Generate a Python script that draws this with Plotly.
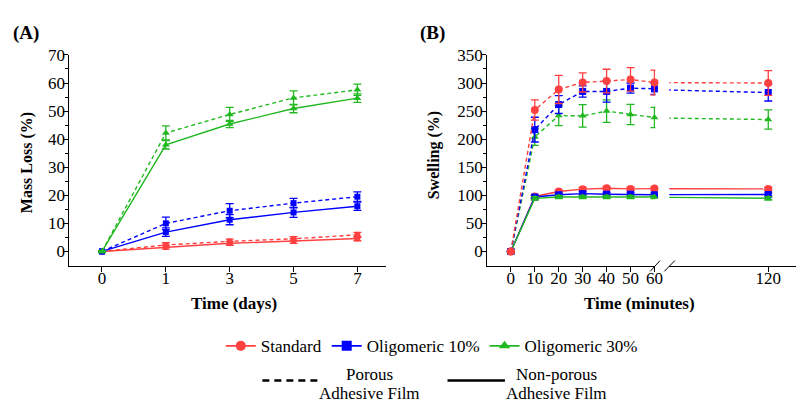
import plotly.graph_objects as go

W, H = 804, 403

# ---------------- Data ----------------
days = [0, 1, 3, 5, 7]
day_labels = ["0", "1", "3", "5", "7"]

ml_std_np = [0, 1.5, 2.9, 3.7, 4.6]
ml_std_np_err = [0.3, 0.7, 0.7, 0.8, 0.8]
ml_std_p = [0, 2.3, 3.6, 4.5, 5.9]
ml_std_p_err = [0.3, 0.8, 0.8, 0.8, 0.9]
ml_o10_np = [0, 6.9, 11.3, 13.9, 16.1]
ml_o10_np_err = [0.3, 1.5, 1.8, 1.8, 1.5]
ml_o10_p = [0, 10.0, 14.5, 17.2, 19.5]
ml_o10_p_err = [0.3, 2.2, 2.5, 1.7, 1.7]
ml_o30_np = [0, 38.0, 45.4, 50.9, 54.6]
ml_o30_np_err = [0.3, 1.5, 1.3, 1.5, 1.5]
ml_o30_p = [0, 42.2, 48.8, 54.7, 57.6]
ml_o30_p_err = [0.3, 2.5, 2.5, 2.5, 2.0]

minutes = [0, 10, 20, 30, 40, 50, 60, 120]

sw_std_np = [0, 98, 106.7, 111, 112.6, 111.4, 112, 111.4]
sw_std_np_err = [1, 3, 3, 3, 3, 3, 3, 3]
sw_std_p = [0, 252, 288.5, 301, 303.5, 306.4, 301, 300]
sw_std_p_err = [1, 18, 25, 17, 21, 21, 22, 22]
sw_o10_np = [0, 97, 101, 103, 102, 102, 101, 101.5]
sw_o10_np_err = [1, 3, 3, 3, 3, 3, 3, 3]
sw_o10_p = [0, 217, 261.7, 285, 285, 291, 289.6, 283]
sw_o10_p_err = [1, 22, 16, 10, 19, 9, 10, 15]
sw_o30_np = [0, 94.6, 97, 97, 97, 97, 97, 94.6]
sw_o30_np_err = [1, 3, 3, 3, 3, 3, 3, 3]
sw_o30_p = [0, 204, 242, 241.5, 250, 244, 238.5, 235]
sw_o30_p_err = [1, 15, 18, 20, 20, 18, 18, 17]

legend_names = ["Standard", "Oligomeric 10%", "Oligomeric 30%"]

# ---------------- Style ----------------
RED = "#ff4040"
BLUE = "#0000ff"
GREEN = "#22b822"
FONT = "Liberation Serif, Times New Roman, DejaVu Serif, serif"
DASH = "4px,3px"


def px_x(p):
    return p / W


def px_y(p):
    return 1 - p / H


fig = go.Figure()

# Panel A
series_a = [
    (ml_std_np, ml_std_np_err, RED, "circle", "solid"),
    (ml_std_p, ml_std_p_err, RED, "circle", DASH),
    (ml_o10_np, ml_o10_np_err, BLUE, "square", "solid"),
    (ml_o10_p, ml_o10_p_err, BLUE, "square", DASH),
    (ml_o30_np, ml_o30_np_err, GREEN, "triangle-up", "solid"),
    (ml_o30_p, ml_o30_p_err, GREEN, "triangle-up", DASH),
]
for vals, errs, col, sym, dash in series_a:
    fig.add_trace(go.Scatter(
        x=day_labels, y=vals, xaxis="x", yaxis="y", mode="lines+markers",
        line=dict(color=col, width=1.4, dash=dash),
        marker=dict(color=col, symbol=sym, size=6 if sym != "triangle-up" else 7),
        error_y=dict(type="data", array=errs, color=col, thickness=1.3, width=4),
        showlegend=False, cliponaxis=False, hoverinfo="x+y"))

# Panel B
series_b = [
    (sw_std_np, sw_std_np_err, RED, "circle", "solid", 8),
    (sw_o10_np, sw_o10_np_err, BLUE, "square", "solid", 7),
    (sw_o30_np, sw_o30_np_err, GREEN, "triangle-up", "solid", 7),
    (sw_o30_p, sw_o30_p_err, GREEN, "triangle-up", DASH, 7),
    (sw_o10_p, sw_o10_p_err, BLUE, "square", DASH, 7),
    (sw_std_p, sw_std_p_err, RED, "circle", DASH, 8),
]
for vals, errs, col, sym, dash, sz in series_b:
    # first segment 0..60
    fig.add_trace(go.Scatter(
        x=minutes[:7], y=vals[:7], xaxis="x2", yaxis="y2", mode="lines+markers",
        line=dict(color=col, width=1.4, dash=dash),
        marker=dict(color=col, symbol=sym, size=sz),
        error_y=dict(type="data", array=errs[:7], color=col, thickness=1.3, width=4),
        showlegend=False, cliponaxis=False))
    # after the axis break 60..120
    fig.add_trace(go.Scatter(
        x=minutes[6:], y=vals[6:], xaxis="x3", yaxis="y2", mode="lines+markers",
        line=dict(color=col, width=1.4, dash=dash),
        marker=dict(color=col, symbol=sym, size=sz),
        error_y=dict(type="data", array=errs[6:], color=col, thickness=1.3, width=4),
        showlegend=False, cliponaxis=True))

# Legend entries
for name, col, sym in zip(legend_names, [RED, BLUE, GREEN], ["circle", "square", "triangle-up"]):
    fig.add_trace(go.Scatter(
        x=[None], y=[None], xaxis="x", yaxis="y", mode="lines+markers", name=name,
        line=dict(color=col, width=1.6), marker=dict(color=col, symbol=sym, size=10)))

ydom = [px_y(262.7), px_y(47)]
axis_common = dict(showline=True, linecolor="black", linewidth=1, ticks="outside",
                   ticklen=5, tickcolor="black", tickwidth=1, showgrid=False,
                   zeroline=False, tickfont=dict(family=FONT, size=17, color="black"))
x_std = dict(ticklabelstandoff=-8)
y_std = dict(ticklabelstandoff=-5)

fig.update_layout(
    width=W, height=H, margin=dict(l=0, r=0, t=0, b=0),
    paper_bgcolor="white", plot_bgcolor="white",
    font=dict(family=FONT, color="black"),
    xaxis=dict(domain=[px_x(70), px_x(390)], anchor="y", type="category",
               range=[-0.512, 4.45], **axis_common, **x_std),
    yaxis=dict(domain=ydom, anchor="x", range=[-5.13, 70], tick0=0, dtick=10,
               minor=dict(tickvals=list(range(5, 70, 10)), ticklen=3, tickcolor="black", ticks="outside"),
               **axis_common, **y_std),
    xaxis2=dict(domain=[px_x(492), px_x(662)], anchor="y2", range=[-9.93, 60.4],
                tickvals=[0, 10, 20, 30, 40, 50, 60], **axis_common, **x_std),
    xaxis3=dict(domain=[px_x(676), 1.0], anchor="y2", range=[78.6, 131.6],
                tickvals=[120], **axis_common, **x_std),
    yaxis2=dict(domain=ydom, anchor="x2", range=[-25.6, 350], tick0=0, dtick=50,
                minor=dict(tickvals=list(range(25, 350, 50)), ticklen=3, tickcolor="black", ticks="outside"),
                **axis_common, **y_std),
    legend=dict(orientation="h", x=px_x(223), xanchor="left", y=px_y(345), yanchor="middle",
                font=dict(family=FONT, size=17, color="black"), bgcolor="rgba(0,0,0,0)"),
)

# axis break marks
for x0, x1 in [(656.7, 666.7), (671, 681.7)]:
    fig.add_shape(type="line", xref="paper", yref="paper",
                  x0=px_x(x0), y0=px_y(268.3), x1=px_x(x1), y1=px_y(257.3),
                  line=dict(color="black", width=1))

# line style legend
fig.add_shape(type="line", xref="paper", yref="paper", x0=px_x(265), x1=px_x(323),
              y0=px_y(380), y1=px_y(380), line=dict(color="black", width=2.5, dash="7px,5px"))
fig.add_shape(type="line", xref="paper", yref="paper", x0=px_x(452), x1=px_x(510),
              y0=px_y(380), y1=px_y(380), line=dict(color="black", width=2.5))


def ann(text, x, y, size, bold=False, angle=0):
    fig.add_annotation(text=f"<b>{text}</b>" if bold else text, xref="paper", yref="paper",
                       x=px_x(x), y=px_y(y), xanchor="center", yanchor="middle",
                       showarrow=False, textangle=angle,
                       font=dict(family=FONT, size=size, color="black"))


ann("Porous", 373, 374, 17)
ann("Adhesive Film", 373, 393, 17)
ann("Non-porous", 562, 374, 17)
ann("Adhesive Film", 562, 393, 17)

ann("(A)", 26, 25, 19, bold=True)
ann("(B)", 437, 25, 19, bold=True)
ann("Time (days)", 236, 301, 17, bold=True)
ann("Time (minutes)", 646, 301, 17, bold=True)
ann("Mass Loss (%)", 28, 157, 16, bold=True, angle=-90)
ann("Swelling (%)", 438, 150, 16, bold=True, angle=-90)

fig.write_html("out.html")
